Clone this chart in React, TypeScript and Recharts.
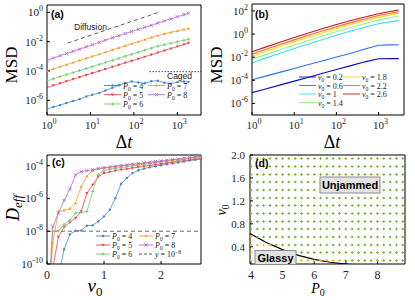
import React from 'react'
import { LineChart, Line, XAxis, YAxis, ReferenceLine, ComposedChart, Scatter } from 'recharts'

const W = 415
const H = 300
const SERIF = '"Liberation Serif", "Times New Roman", serif'
const SANS = '"Liberation Sans", Arial, sans-serif'

// ---------- (a) MSD vs dt, one curve per P0 (log10 values)
const dtA = [1, 1.4, 2, 2.8, 4, 5.6, 8, 11, 16, 22, 32, 45, 63, 89, 126, 178, 251, 355, 501, 708, 1000, 1413, 1800]
const logMsdP4 = [-6.6, -6.45, -6.33, -6.18, -6.05, -5.92, -5.74, -5.62, -5.5, -5.33, -5.15, -4.97, -4.82, -4.72, -4.78, -4.84, -4.7, -4.66, -4.8, -4.86, -4.76, -4.72, -4.74]
const logMsdP5 = [-5.12, -4.98, -4.84, -4.7, -4.56, -4.42, -4.28, -4.15, -4.0, -3.87, -3.72, -3.58, -3.45, -3.31, -3.17, -3.03, -2.89, -2.75, -2.61, -2.47, -2.33, -2.19, -2.09]
const logMsdP6 = [-4.67, -4.53, -4.39, -4.25, -4.11, -3.97, -3.83, -3.7, -3.55, -3.42, -3.27, -3.13, -2.99, -2.86, -2.72, -2.58, -2.44, -2.31, -2.21, -2.11, -2.01, -1.91, -1.84]
const logMsdP7 = [-3.99, -3.85, -3.7, -3.57, -3.42, -3.28, -3.13, -3.0, -2.85, -2.72, -2.56, -2.42, -2.28, -2.14, -2.0, -1.86, -1.71, -1.58, -1.47, -1.36, -1.26, -1.17, -1.11]
const logMsdP8 = [-3.27, -3.12, -2.96, -2.81, -2.66, -2.51, -2.35, -2.21, -2.04, -1.9, -1.74, -1.59, -1.45, -1.31, -1.16, -1.02, -0.88, -0.73, -0.59, -0.45, -0.3, -0.16, -0.06]
const diffusionGuide = [{ x: 3, y: 0.0081 }, { x: 370, y: 1 }]
const cagedGuide = [{ x: 228, y: 9e-5 }, { x: 3500, y: 9e-5 }]

const p0Names = ['4', '5', '6', '7', '8']
const p0Colors = ['#4a87c7', '#e8444a', '#79c971', '#fb9b32', '#b267d6']
const p0Marks = ['star', 'tdown', 'plus', 'tup', 'cross']

// ---------- (b) MSD vs dt at P0 fixed, one curve per v0 (log10 values)
const dtB = [1, 2, 5, 10, 20, 50, 100, 200, 500, 1000, 2000, 3000]
const logMsdV02 = [-5.07, -4.77, -4.37, -4.07, -3.77, -3.37, -3.07, -2.77, -2.38, -2.13, -2.12, -2.12]
const logMsdV06 = [-3.95, -3.66, -3.27, -2.97, -2.68, -2.29, -1.99, -1.7, -1.27, -0.96, -0.93, -0.92]
const logMsdV10 = [-2.48, -2.1, -1.61, -1.25, -0.9, -0.44, -0.1, 0.22, 0.62, 0.9, 1.08, 1.16]
const logMsdV14 = [-2.18, -1.8, -1.31, -0.95, -0.6, -0.13, 0.21, 0.53, 0.93, 1.21, 1.44, 1.56]
const logMsdV18 = [-1.9, -1.52, -1.03, -0.67, -0.32, 0.14, 0.48, 0.79, 1.18, 1.46, 1.68, 1.8]
const logMsdV22 = [-1.73, -1.35, -0.86, -0.5, -0.15, 0.31, 0.64, 0.95, 1.33, 1.6, 1.82, 1.93]
const logMsdV26 = [-1.53, -1.15, -0.66, -0.3, 0.05, 0.5, 0.83, 1.13, 1.5, 1.76, 1.97, 2.08]
const v0Names = ['0.2', '0.6', '1', '1.4', '1.8', '2.2', '2.6']
const v0Colors = ['#0a0ac4', '#2b6fff', '#2fe2ff', '#93f57a', '#ffd21a', '#ff6420', '#c4141a']

// ---------- (c) effective diffusivity vs v0 (log10 values)
const v0C = [0, 0.1, 0.2, 0.3, 0.4, 0.5, 0.6, 0.7, 0.8, 0.9, 1, 1.1, 1.2, 1.3, 1.4, 1.5, 1.6, 1.7, 1.8, 1.9, 2, 2.1, 2.2, 2.3, 2.4, 2.5, 2.6, 2.7]
const logDeffP4 = [-14, -13, -10.8, -9.1, -8.2, -7.96, -7.96, -7.66, -7.64, -7.4, -7.1, -6.69, -5.98, -5.1, -4.75, -4.45, -4.28, -4.18, -4.1, -4.03, -3.97, -3.91, -3.86, -3.8, -3.74, -3.69, -3.64, -3.6]
const logDeffP5 = [-14, -10.3, -8.34, -7.74, -7.46, -7.19, -6.79, -5.68, -5.17, -4.67, -4.46, -4.38, -4.3, -4.24, -4.19, -4.14, -4.09, -4.04, -3.99, -3.94, -3.89, -3.84, -3.79, -3.74, -3.69, -3.65, -3.61, -3.57]
const logDeffP6 = [-14, -8.0, -7.98, -7.6, -7.33, -6.89, -6.85, -6.8, -5.58, -4.55, -4.3, -4.22, -4.16, -4.11, -4.06, -4.01, -3.96, -3.91, -3.86, -3.81, -3.76, -3.72, -3.68, -3.64, -3.6, -3.56, -3.52, -3.48]
const logDeffP7 = [-14, -8.7, -6.79, -6.72, -6.62, -6.28, -5.27, -4.63, -4.3, -4.18, -4.13, -4.09, -4.05, -4.01, -3.97, -3.93, -3.89, -3.85, -3.81, -3.77, -3.73, -3.69, -3.65, -3.61, -3.57, -3.53, -3.49, -3.45]
const logDeffP8 = [-14, -7.74, -6.89, -6.12, -5.43, -4.57, -4.36, -4.3, -4.24, -4.18, -4.12, -4.08, -4.03, -3.99, -3.95, -3.91, -3.87, -3.83, -3.79, -3.75, -3.71, -3.67, -3.63, -3.59, -3.55, -3.51, -3.47, -3.43]

// ---------- (d) phase diagram
const p0Grid = [4, 4.2, 4.4, 4.6, 4.8, 5, 5.2, 5.4, 5.6, 5.8, 6, 6.2, 6.4, 6.6, 6.8, 7, 7.2, 7.4, 7.6, 7.8, 8, 8.2, 8.4, 8.6, 8.8]
const v0Grid = [0.16, 0.3, 0.43, 0.57, 0.71, 0.84, 0.98, 1.12, 1.25, 1.39, 1.53, 1.66, 1.8, 1.94]
const glassyRows = [4, 3, 3, 3, 2, 2, 2, 1, 1, 1, 1, 1, 1, 1, 1, 0, 0, 0, 0, 0, 0, 0, 0, 0, 0]
const boundary = [
  { x: 3.97, y: 0.63 },
  { x: 4.5, y: 0.47 },
  { x: 5, y: 0.35 },
  { x: 5.5, y: 0.25 },
  { x: 6, y: 0.18 },
  { x: 6.5, y: 0.13 },
  { x: 7, y: 0.1 },
  { x: 7.4, y: 0.08 },
]

// tick positions
const dtMajor = [1, 10, 100, 1000]
const dtMinor = [2, 3, 4, 5, 6, 7, 8, 9, 20, 30, 40, 50, 60, 70, 80, 90, 200, 300, 400, 500, 600, 700, 800, 900, 2000, 3000]
const msdTicksA = [1e-6, 1e-4, 1e-2, 1]
const msdMinorA = [1e-7, 1e-5, 1e-3, 1e-1]
const msdTicksB = [1e-6, 1e-4, 1e-2, 1, 100]
const msdMinorB = [1e-7, 1e-5, 1e-3, 1e-1, 10]
const deffTicks = [1e-10, 1e-8, 1e-6, 1e-4]
const deffMinor = [1e-9, 1e-7, 1e-5]
const v0TicksC = [0, 1, 2]
const p0TicksD = [4, 5, 6, 7, 8]
const v0TicksD = [0.4, 0.8, 1.2, 1.6, 2.0]

const toPts = (xs: number[], logs: number[]) => xs.map((x, i) => ({ x, y: Math.pow(10, logs[i]) }))
const seriesA = [logMsdP4, logMsdP5, logMsdP6, logMsdP7, logMsdP8].map((l) => toPts(dtA, l))
const seriesB = [logMsdV02, logMsdV06, logMsdV10, logMsdV14, logMsdV18, logMsdV22, logMsdV26].map((l) => toPts(dtB, l))
const seriesC = [logDeffP4, logDeffP5, logDeffP6, logDeffP7, logDeffP8].map((l) => toPts(v0C, l))
const gridDots = p0Grid.flatMap((p, i) => v0Grid.map((v, j) => ({ x: p, y: v, glassy: j < glassyRows[i] })))
const unjammedDots = gridDots.filter((d) => !d.glassy)
const glassyDots = gridDots.filter((d) => d.glassy)

// every side carries two 1px axes (major + minor ticks), so leave 2px for them
const frame = (l: number, t: number, r: number, b: number) => ({ left: l - 2, top: t - 2, right: W - r - 2, bottom: H - b - 2 })
const abs: React.CSSProperties = { position: 'absolute', left: 0, top: 0 }

function PowTick(props: any) {
  const { x, y, payload, side } = props
  const e = Math.round(Math.log10(payload.value))
  if (side === 'bottom') {
    return (
      <text x={x + 2} y={y + 14} textAnchor="middle" fontFamily={SERIF} fontSize={11} fill="#262626">
        10<tspan dy={-5} fontSize={8}>{e}</tspan>
      </text>
    )
  }
  return (
    <text x={x - 4} y={y + 4} textAnchor="end" fontFamily={SERIF} fontSize={11} fill="#262626">
      10<tspan dy={-5} fontSize={8}>{e}</tspan>
    </text>
  )
}

function NumTick(props: any) {
  const { x, y, payload, side, digits } = props
  const s = digits ? Number(payload.value).toFixed(digits) : String(payload.value)
  if (side === 'bottom') {
    return (
      <text x={x} y={y + 15} textAnchor="middle" fontFamily={SERIF} fontSize={12} fill="#262626">
        {s}
      </text>
    )
  }
  return (
    <text x={x - 5} y={y + 4} textAnchor="end" fontFamily={SERIF} fontSize={11} fill="#262626">
      {s}
    </text>
  )
}

function Mark({ cx, cy, kind, color }: { cx?: number; cy?: number; kind: string; color: string }) {
  if (cx == null || cy == null || isNaN(cx) || isNaN(cy)) return <g />
  const s = 1.6
  if (kind === 'tup') return <path d={`M${cx},${cy - s}L${cx + s},${cy + s * 0.7}L${cx - s},${cy + s * 0.7}Z`} fill={color} />
  if (kind === 'tdown') return <path d={`M${cx},${cy + s}L${cx + s},${cy - s * 0.7}L${cx - s},${cy - s * 0.7}Z`} fill={color} />
  if (kind === 'plus') return <path d={`M${cx - s},${cy}H${cx + s}M${cx},${cy - s}V${cy + s}`} stroke={color} strokeWidth={0.9} />
  if (kind === 'cross')
    return <path d={`M${cx - s},${cy - s}L${cx + s},${cy + s}M${cx - s},${cy + s}L${cx + s},${cy - s}`} stroke={color} strokeWidth={0.9} />
  if (kind === 'grid') return <path d={`M${cx - 1.3},${cy}H${cx + 1.3}M${cx},${cy - 1.3}V${cy + 1.3}`} stroke={color} strokeWidth={1.1} />
  return <circle cx={cx} cy={cy} r={1.2} fill={color} />
}

type AxisSpec = { scale: 'log' | 'linear'; domain: number[]; ticks: number[]; minor?: number[]; tick: any }

function axes(xs: AxisSpec, ys: AxisSpec) {
  const major = { type: 'number' as const, allowDataOverflow: true, interval: 0 as const, tickSize: -3, tickMargin: 3, stroke: '#000' }
  const minor = { type: 'number' as const, allowDataOverflow: true, interval: 0 as const, tickSize: -2.8, tickMargin: 0, stroke: '#000', axisLine: false, tick: false }
  const xm = xs.minor ? { ticks: xs.minor } : { tickLine: false }
  const ym = ys.minor ? { ticks: ys.minor } : { tickLine: false }
  return [
    <XAxis key="xb" xAxisId="b" dataKey="x" scale={xs.scale} domain={xs.domain} ticks={xs.ticks} height={1} tick={xs.tick} {...major} />,
    <XAxis key="xbm" xAxisId="bm" dataKey="x" scale={xs.scale} domain={xs.domain} height={1} {...minor} {...xm} />,
    <XAxis key="xt" xAxisId="t" orientation="top" dataKey="x" scale={xs.scale} domain={xs.domain} ticks={xs.ticks} height={1} tick={false} {...major} />,
    <XAxis key="xtm" xAxisId="tm" orientation="top" dataKey="x" scale={xs.scale} domain={xs.domain} height={1} {...minor} {...xm} />,
    <YAxis key="yl" yAxisId="l" dataKey="y" scale={ys.scale} domain={ys.domain} ticks={ys.ticks} width={1} tick={ys.tick} {...major} />,
    <YAxis key="ylm" yAxisId="lm" dataKey="y" scale={ys.scale} domain={ys.domain} width={1} {...minor} {...ym} />,
    <YAxis key="yr" yAxisId="r" orientation="right" dataKey="y" scale={ys.scale} domain={ys.domain} ticks={ys.ticks} width={1} tick={false} {...major} />,
    <YAxis key="yrm" yAxisId="rm" orientation="right" dataKey="y" scale={ys.scale} domain={ys.domain} width={1} {...minor} {...ym} />,
  ]
}

function PanelA() {
  return (
    <LineChart width={W} height={H} margin={frame(47, 5, 201, 115)}>
      {axes(
        { scale: 'log', domain: [1, 3500], ticks: dtMajor, minor: dtMinor, tick: <PowTick side="bottom" /> },
        { scale: 'log', domain: [1e-7, 3.16], ticks: msdTicksA, minor: msdMinorA, tick: <PowTick side="left" /> },
      )}
      {seriesA.map((pts, i) => (
        <Line
          key={i}
          data={pts}
          dataKey="y"
          xAxisId="b"
          yAxisId="l"
          stroke={p0Colors[i]}
          strokeWidth={0.8}
          dot={(p: any) => <Mark key={p.index} cx={p.cx} cy={p.cy} kind={p0Marks[i]} color={p0Colors[i]} />}
          isAnimationActive={false}
        />
      ))}
      <Line data={diffusionGuide} dataKey="y" xAxisId="b" yAxisId="l" stroke="#333" strokeWidth={0.8} strokeDasharray="4 3" dot={false} isAnimationActive={false} />
      <Line data={cagedGuide} dataKey="y" xAxisId="b" yAxisId="l" stroke="#333" strokeWidth={0.9} strokeDasharray="1.5 1.5" dot={false} isAnimationActive={false} />
    </LineChart>
  )
}

function PanelB() {
  return (
    <LineChart width={W} height={H} margin={frame(252, 4, 404, 115)}>
      {axes(
        { scale: 'log', domain: [1, 4000], ticks: dtMajor, minor: dtMinor, tick: <PowTick side="bottom" /> },
        { scale: 'log', domain: [1e-7, 400], ticks: msdTicksB, minor: msdMinorB, tick: <PowTick side="left" /> },
      )}
      {seriesB.map((pts, i) => (
        <Line key={i} data={pts} dataKey="y" xAxisId="b" yAxisId="l" stroke={v0Colors[i]} strokeWidth={1.1} dot={false} isAnimationActive={false} />
      ))}
    </LineChart>
  )
}

function PanelC() {
  return (
    <LineChart width={W} height={H} margin={frame(47, 155, 201, 264)}>
      {axes(
        { scale: 'linear', domain: [0, 2.7], ticks: v0TicksC, tick: <NumTick side="bottom" /> },
        { scale: 'log', domain: [1e-10, 4.5e-4], ticks: deffTicks, minor: deffMinor, tick: <PowTick side="left" /> },
      )}
      <ReferenceLine y={1e-8} xAxisId="b" yAxisId="l" stroke="#444" strokeWidth={0.8} strokeDasharray="4 3" />
      {seriesC.map((pts, i) => (
        <Line
          key={i}
          data={pts}
          dataKey="y"
          xAxisId="b"
          yAxisId="l"
          stroke={p0Colors[i]}
          strokeWidth={0.8}
          dot={(p: any) => <Mark key={p.index} cx={p.cx} cy={p.cy} kind={p0Marks[i]} color={p0Colors[i]} />}
          isAnimationActive={false}
        />
      ))}
    </LineChart>
  )
}

function PanelD() {
  return (
    <ComposedChart width={W} height={H} margin={frame(250, 155, 405, 264)}>
      {axes(
        { scale: 'linear', domain: [3.97, 8.87], ticks: p0TicksD, tick: <NumTick side="bottom" /> },
        { scale: 'linear', domain: [0.1, 2], ticks: v0TicksD, tick: <NumTick side="left" digits={1} /> },
      )}
      <Scatter
        data={unjammedDots}
        xAxisId="b"
        yAxisId="l"
        fill="#77ac30"
        shape={(p: any) => <Mark cx={p.cx} cy={p.cy} kind="grid" color="#77ac30" />}
        isAnimationActive={false}
      />
      <Scatter
        data={glassyDots}
        xAxisId="b"
        yAxisId="l"
        fill="#edb120"
        shape={(p: any) => <Mark cx={p.cx} cy={p.cy} kind="grid" color="#f0b21e" />}
        isAnimationActive={false}
      />
      <Line data={boundary} dataKey="y" xAxisId="b" yAxisId="l" stroke="#000" strokeWidth={1.2} dot={false} isAnimationActive={false} />
    </ComposedChart>
  )
}

function Key({ x, y, len, color, kind, dash, children }: any) {
  return (
    <g>
      <line x1={x} y1={y} x2={x + len} y2={y} stroke={color} strokeWidth={0.9} strokeDasharray={dash} />
      {kind && <Mark cx={x + len / 2} cy={y} kind={kind} color={color} />}
      <text x={x + len + 2} y={y + 3} fontFamily={SERIF} fontSize={8} fill="#222">
        {children}
      </text>
    </g>
  )
}

const sym = (s: string, v: string) => (
  <>
    <tspan fontStyle="italic">{s}</tspan>
    <tspan fontSize={5.5} dy={2}>0</tspan>
    <tspan dy={-2}>{'\u00a0=\u00a0' + v}</tspan>
  </>
)

function Overlay() {
  const aRows = [85.5, 94.7, 104]
  const bRows = [77, 85.5, 94, 102.5]
  const cRows = [236, 245, 254]
  return (
    <svg style={abs} width={W} height={H}>
      {/* panel tags */}
      <text x={51} y={18} fontFamily={SANS} fontWeight="bold" fontSize={10.5}>(a)</text>
      <text x={255} y={18} fontFamily={SANS} fontWeight="bold" fontSize={10.5}>(b)</text>
      <text x={52} y={166} fontFamily={SANS} fontWeight="bold" fontSize={10.5}>(c)</text>
      <text x={255} y={167} fontFamily={SANS} fontWeight="bold" fontSize={10.5}>(d)</text>

      {/* axis titles */}
      <text transform="translate(17,65) rotate(-90)" textAnchor="middle" fontFamily={SERIF} fontSize={17}>MSD</text>
      <text transform="translate(222,65) rotate(-90)" textAnchor="middle" fontFamily={SERIF} fontSize={17}>MSD</text>
      <text x={124} y={148} textAnchor="middle" fontFamily={SERIF} fontSize={18}>
        Δ<tspan fontStyle="italic">t</tspan>
      </text>
      <text x={332} y={148} textAnchor="middle" fontFamily={SERIF} fontSize={18}>
        Δ<tspan fontStyle="italic">t</tspan>
      </text>
      <text transform="translate(19,208) rotate(-90)" textAnchor="middle" fontFamily={SERIF} fontSize={18}>
        <tspan fontStyle="italic">D</tspan>
        <tspan fontStyle="italic" fontSize={13} dy={3}>eff</tspan>
      </text>
      <text x={95} y={292} textAnchor="middle" fontFamily={SERIF} fontSize={19}>
        <tspan fontStyle="italic">v</tspan>
        <tspan fontSize={13} dy={4}>0</tspan>
      </text>
      <text transform="translate(226,210) rotate(-90)" textAnchor="middle" fontFamily={SERIF} fontSize={14}>
        <tspan fontStyle="italic">v</tspan>
        <tspan fontSize={10} dy={2.5}>0</tspan>
      </text>
      <text x={318} y={293} textAnchor="middle" fontFamily={SERIF} fontSize={14}>
        <tspan fontStyle="italic">P</tspan>
        <tspan fontSize={10} dy={3}>0</tspan>
      </text>

      {/* (a) annotations + legend */}
      <text x={74} y={30} fontFamily={SANS} fontSize={8.5} fill="#222">Diffusion</text>
      <text x={167} y={79} fontFamily={SANS} fontSize={8.5} fill="#222">Caged</text>
      {p0Names.map((n, i) => (
        <Key key={n} x={i < 3 ? 104 : 148} y={aRows[i % 3]} len={17} color={p0Colors[i]} kind={p0Marks[i]}>
          {sym('P', n)}
        </Key>
      ))}

      {/* (b) legend */}
      {v0Names.map((n, i) => (
        <Key key={n} x={i < 4 ? 299 : 343} y={bRows[i % 4]} len={17} color={v0Colors[i]}>
          {sym('v', n)}
        </Key>
      ))}

      {/* (c) legend */}
      {p0Names.map((n, i) => (
        <Key key={n} x={i < 3 ? 96 : 139} y={cRows[i % 3]} len={14} color={p0Colors[i]} kind={p0Marks[i]}>
          {sym('P', n)}
        </Key>
      ))}
      <Key x={139} y={cRows[2]} len={14} color="#444" dash="3 2">
        <tspan fontStyle="italic">y</tspan>
        <tspan>{'\u00a0=\u00a010'}</tspan>
        <tspan fontSize={5.5} dy={-3}>−8</tspan>
      </Key>

      {/* (d) region tags */}
      <rect x={320} y={177} width={60} height={16} fill="#e3e3e3" stroke="#8c8c8c" strokeWidth={1} />
      <text x={350} y={189} textAnchor="middle" fontFamily={SANS} fontWeight="bold" fontSize={11}>Unjammed</text>
      <rect x={255} y={250.5} width={41} height={14} fill="#e3e3e3" stroke="#8c8c8c" strokeWidth={1} />
      <text x={275.5} y={261.5} textAnchor="middle" fontFamily={SANS} fontWeight="bold" fontSize={11}>Glassy</text>
    </svg>
  )
}

export default function App() {
  return (
    <div style={{ position: 'absolute', left: 0, top: 0, width: W, height: H, background: '#fff', overflow: 'hidden' }}>
      <div style={abs}><PanelA /></div>
      <div style={abs}><PanelB /></div>
      <div style={abs}><PanelC /></div>
      <div style={abs}><PanelD /></div>
      <Overlay />
    </div>
  )
}
